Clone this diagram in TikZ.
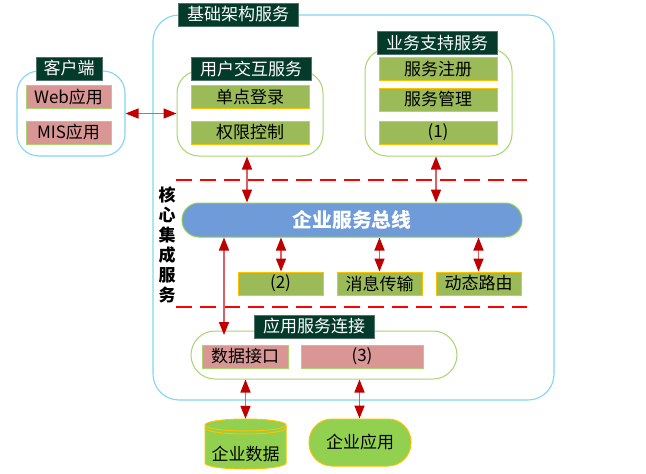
\documentclass[tikz,border=0pt]{standalone}
\usepackage{fontspec}
\setmainfont{Noto Sans CJK SC}
\usetikzlibrary{arrows.meta}
\definecolor{darkt}{HTML}{033A2A}
\definecolor{skyb}{HTML}{7FD6F5}
\definecolor{lgreen}{HTML}{A9D46F}
\definecolor{olive}{HTML}{9BBB59}
\definecolor{gold}{HTML}{FFC000}
\definecolor{pink}{HTML}{D99694}
\definecolor{busb}{HTML}{6F9BD9}
\definecolor{gr}{HTML}{92D050}
\definecolor{tipr}{HTML}{C00000}
\definecolor{shaft}{HTML}{DB5F63}
\tikzset{
  x=1pt,y=-1pt,
  txt/.style={font=\fontsize{17}{19}\selectfont,inner sep=0pt,text=black},
  group/.style={draw=lgreen,line width=1pt,fill=white,rounded corners=22pt,inner sep=0pt},
  skygroup/.style={draw=skyb,line width=1.1pt,fill=white,inner sep=0pt},
  title/.style={txt,fill=darkt,draw=darkt!70!white,line width=.6pt,text=white,minimum width=120pt,minimum height=23pt},
  obox/.style={txt,fill=olive,draw=gold,line width=1pt,minimum height=23pt},
  pbox/.style={txt,fill=pink,draw=lgreen,line width=1pt,minimum height=23pt},
  link/.style={draw=shaft,line width=1.5pt,{Triangle[length=13pt,width=10pt,color=tipr]}-{Triangle[length=13pt,width=10pt,color=tipr]},shorten >=0pt,shorten <=0pt},
  sep/.style={draw=red,line width=1.6pt,dash pattern=on 16pt off 8pt},
}
\begin{document}
\begin{tikzpicture}
\useasboundingbox (0,0) rectangle (646,474);
% outer frame
\node[skygroup,rounded corners=26pt,minimum width=401pt,minimum height=385pt] (outer) at (353.5,207.5) {};
\node[title] (outertitle) at (238,14.5) {基础架构服务};
% client
\node[skygroup,rounded corners=22pt,minimum width=108pt,minimum height=85pt] (client) at (71,113.5) {};
\node[title,minimum width=66pt] (clienttitle) at (69,68.5) {客户端};
\node[pbox,minimum width=85pt] (web) at (68.5,97) {Web应用};
\node[pbox,minimum width=85pt] (mis) at (68.5,132.5) {MIS应用};
% user interaction
\node[group,minimum width=146pt,minimum height=85pt] (user) at (250,113.5) {};
\node[title] (usertitle) at (251,69) {用户交互服务};
\node[obox,minimum width=118pt] (sso) at (250,97) {单点登录};
\node[obox,minimum width=118pt] (auth) at (250,132.5) {权限控制};
% business support
\node[group,minimum width=147pt,minimum height=107pt] (biz) at (438.5,102.5) {};
\node[title] (biztitle) at (437,43) {业务支持服务};
\node[obox,minimum width=118pt] (reg) at (438,69) {服务注册};
\node[obox,minimum width=118pt] (mgr) at (438,99.5) {服务管理};
\node[obox,minimum width=118pt] (one) at (438,132.5) {(1)};
% separators
\coordinate (s1l) at (176,180); \coordinate (s1r) at (527,180);
\coordinate (s2l) at (176,307); \coordinate (s2r) at (527,307);
\draw[sep] (s1l) -- (s1r);
\draw[sep] (s2l) -- (s2r);
% bus
\node[txt,fill=busb,draw=gr,line width=1pt,rounded corners=17pt,minimum width=340pt,minimum height=34pt,text=white,font=\fontsize{19.8}{21}\selectfont\bfseries] (bus) at (352,220) {企业服务总线};
\node[txt,align=center,font=\fontsize{17}{20}\selectfont\bfseries] (core) at (167,245) {核\\心\\集\\成\\服\\务};
% bus services
\node[obox,minimum width=85pt] (two) at (280.5,283.5) {(2)};
\node[obox,minimum width=85pt] (msg) at (379.5,283.5) {消息传输};
\node[obox,minimum width=85pt] (route) at (478.5,283.5) {动态路由};
% application connections
\node[group,rounded corners=24pt,minimum width=266pt,minimum height=48pt] (app) at (324,355) {};
\node[title] (apptitle) at (314,326.5) {应用服务连接};
\node[pbox,minimum width=86pt] (iface) at (245,356.5) {数据接口};
\node[pbox,minimum width=122pt] (three) at (362,356.5) {(3)};
% enterprise data
\draw[gold,line width=1pt,fill=gr] (205,425) arc[start angle=180,end angle=0,x radius=40.5pt,y radius=6pt] -- (286,463) arc[start angle=0,end angle=-180,x radius=40.5pt,y radius=6pt] -- cycle;
\draw[gold,line width=1pt] (205,425) arc[start angle=180,end angle=360,x radius=40.5pt,y radius=6pt];
\draw[gold,line width=1pt] (205,428) arc[start angle=180,end angle=360,x radius=40.5pt,y radius=6pt];
\node[txt,minimum width=81pt,minimum height=50pt] (db) at (245.5,444) {};
\node[txt] (dbtext) at (245.5,454) {企业数据};
\node[txt,fill=gr,draw=gold,line width=1pt,rounded corners=23pt,minimum width=102pt,minimum height=47pt] (eapp) at (360,442.5) {企业应用};
% connectors
\draw[link] (client.east) -- (user.west);
\draw[link] (247,0 |- user.south) -- (247,0 |- bus.north);
\draw[link] (436,0 |- biz.south) -- (436,0 |- bus.north);
\draw[link] (281,0 |- bus.south) -- (281,0 |- two.north);
\draw[link] (msg.north |- bus.south) -- (msg.north);
\draw[link] (route.north |- bus.south) -- (route.north);
\draw[link] (224,0 |- bus.south) -- (224,335);
\draw[link] (245.5,0 |- app.south) -- (db.north);
\draw[link] (359.5,0 |- app.south) -- (359.5,0 |- eapp.north);
\end{tikzpicture}
\end{document}
